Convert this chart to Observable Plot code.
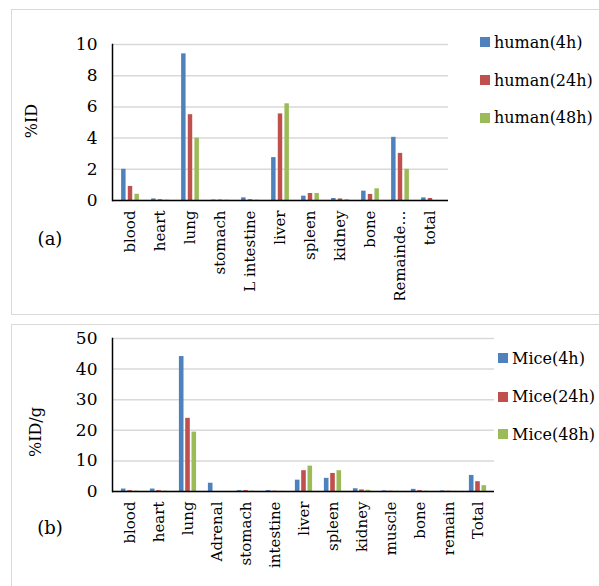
<!DOCTYPE html>
<html><head><meta charset="utf-8">
<script src="https://cdn.jsdelivr.net/npm/d3@7"></script>
<script src="https://cdn.jsdelivr.net/npm/@observablehq/plot@0.6"></script>
<style>
body{margin:0;background:#fff;font-family:"DejaVu Serif",serif;}
#wrap{position:relative;width:599px;height:586px;overflow:hidden;background:#fff;}
.box{position:absolute;border:1.5px solid #d9d9d9;box-sizing:border-box;}
.lbl{position:absolute;font-size:16px;color:#000;white-space:nowrap;transform:translate(-50%,-50%);}
.ylab{transform:translate(-50%,-50%) rotate(-90deg);}
.leg{position:absolute;height:20px;font-size:16px;display:flex;align-items:center;white-space:nowrap;color:#000;}
.leg .sw{width:10px;height:10px;margin-right:4px;display:inline-block;}
.chart{position:absolute;left:0;}
</style></head>
<body>
<div id="wrap">
  <div class="box" style="left:11px;top:9px;width:600px;height:306px;"></div>
  <div class="box" style="left:11px;top:324px;width:600px;height:280px;"></div>
  <div id="chartA" class="chart" style="top:0px;"></div>
  <div id="chartB" class="chart" style="top:300px;"></div>
  <div class="lbl ylab" style="left:31px;top:121px;font-size:16px;">%ID</div>
  <div class="lbl" style="left:50px;top:238px;font-size:18px;">(a)</div>
  <div class="lbl ylab" style="left:35px;top:432px;font-size:16px;">%ID/g</div>
  <div class="lbl" style="left:50px;top:527px;font-size:18px;">(b)</div>
  <div id="legA"></div>
  <div id="legB"></div>
</div>
<script>
// ---- Data (a): human ----
const categoriesA = ["blood","heart","lung","stomach","L intestine","liver","spleen","kidney","bone","Remainde…","total"];
const human4h  = [2.0, 0.1, 9.4, 0.03, 0.17, 2.75, 0.28, 0.13, 0.6, 4.05, 0.17];
const human24h = [0.9, 0.05, 5.5, 0.03, 0.05, 5.55, 0.45, 0.1, 0.39, 3.02, 0.13];
const human48h = [0.4, 0.02, 4.0, 0.02, 0.02, 6.2, 0.45, 0.05, 0.75, 2.0, 0.0];
const seriesNamesA = ["human(4h)","human(24h)","human(48h)"];
const yTicksA = [0,2,4,6,8,10];

// ---- Data (b): mice ----
const categoriesB = ["blood","heart","lung","Adrenal","stomach","intestine","liver","spleen","kidney","muscle","bone","remain","Total"];
const mice4h  = [0.8, 0.8, 44.1, 2.7, 0.3, 0.3, 3.7, 4.3, 0.9, 0.2, 0.7, 0.2, 5.25];
const mice24h = [0.3, 0.3, 23.9, 0.0, 0.3, 0.1, 6.8, 5.9, 0.5, 0.1, 0.3, 0.1, 3.2];
const mice48h = [0.1, 0.1, 19.4, 0.0, 0.1, 0.05, 8.3, 6.8, 0.4, 0.05, 0.1, 0.05, 1.9];
const seriesNamesB = ["Mice(4h)","Mice(24h)","Mice(48h)"];
const yTicksB = [0,10,20,30,40,50];

const colors = ["#4f81bd","#c0504d","#9bbb59"];

function grouped({cats, series, yTicks, width, height, ml, mr, mt, mb, barW, spacing}) {
  const bw = (width - ml - mr) / cats.length;
  const inset = (bw - barW) / 2;
  const bars = series.map((vals, i) =>
    Plot.barY(cats.map((c, j) => ({cat: c, v: vals[j]})), {
      x: "cat", y: "v", fill: colors[i],
      insetLeft: inset, insetRight: inset, dx: (i - 1) * spacing
    })
  );
  return Plot.plot({
    width, height,
    marginLeft: ml, marginRight: mr, marginTop: mt, marginBottom: mb,
    style: {fontFamily: "DejaVu Serif, serif", fontSize: "16px", color: "#000", background: "transparent"},
    x: {type: "band", domain: cats, padding: 0},
    y: {domain: [yTicks[0], yTicks[yTicks.length - 1]]},
    marks: [
      Plot.gridY(yTicks, {stroke: "#d9d9d9", strokeOpacity: 1, strokeWidth: 1.5}),
      ...bars,
      Plot.axisY(yTicks, {tickSize: 0, tickPadding: 15, fontSize: 17, label: null}),
      Plot.axisX({tickSize: 0, tickRotate: -90, tickPadding: 10, fontSize: 15, label: null}),
      Plot.frame({anchor: "left", stroke: "#000", strokeWidth: 1.5}),
      Plot.ruleY([0], {stroke: "#000", strokeWidth: 1.5})
    ]
  });
}

document.getElementById("chartA").append(grouped({
  cats: categoriesA, series: [human4h, human24h, human48h], yTicks: yTicksA,
  width: 599, height: 300, ml: 112, mr: 151, mt: 44, mb: 100, barW: 5, spacing: 6.65
}));
document.getElementById("chartB").append(grouped({
  cats: categoriesB, series: [mice4h, mice24h, mice48h], yTicks: yTicksB,
  width: 599, height: 286, ml: 112, mr: 105, mt: 38, mb: 95, barW: 5, spacing: 6.3
}));

function legend(el, names, left, centers) {
  names.forEach((n, i) => {
    const d = document.createElement("div");
    d.className = "leg";
    d.style.left = left + "px";
    d.style.top = (centers[i] - 10) + "px";
    d.innerHTML = `<span class="sw" style="background:${colors[i]}"></span>${n}`;
    el.append(d);
  });
}
legend(document.getElementById("legA"), seriesNamesA, 480, [42, 80, 117.5]);
legend(document.getElementById("legB"), seriesNamesB, 498, [358, 396.5, 434]);
</script>
</body></html>
